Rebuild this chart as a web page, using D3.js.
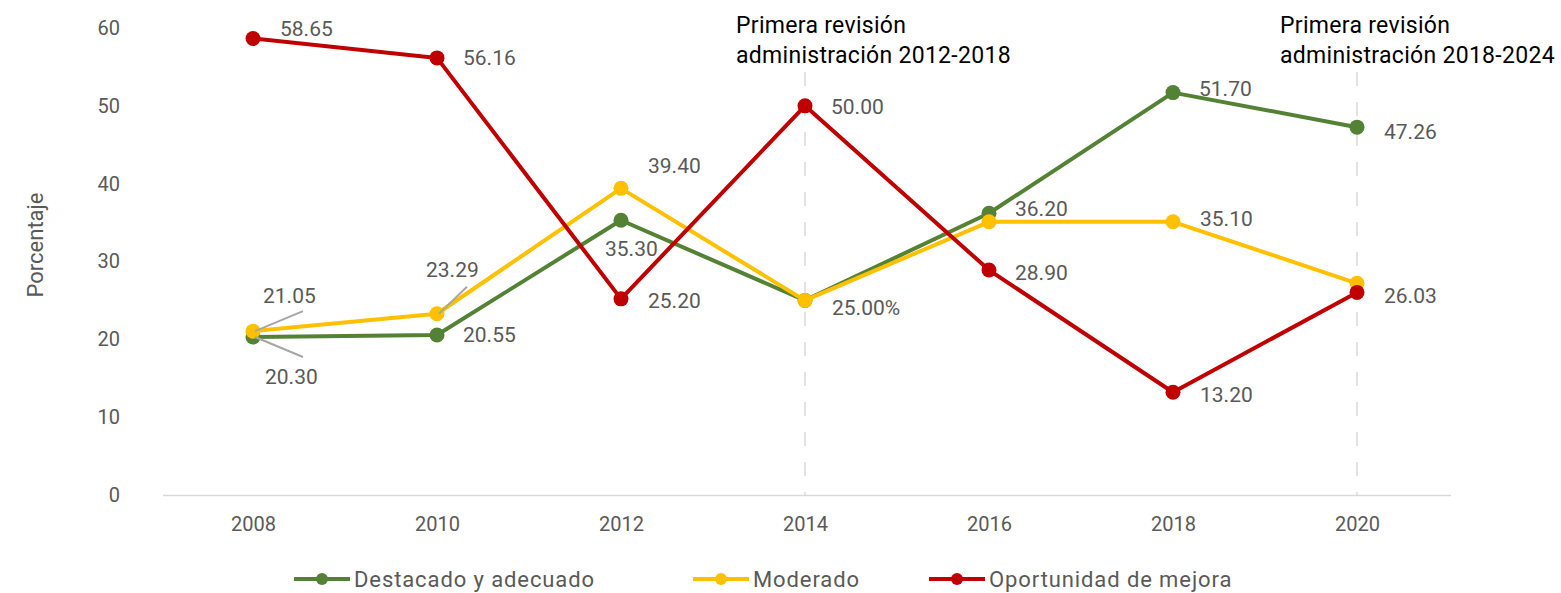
<!DOCTYPE html>
<html lang="es">
<head>
<meta charset="UTF-8">
<title>Porcentaje por nivel</title>
<script src="https://cdn.jsdelivr.net/npm/d3@7"></script>
<style>
  body { margin: 0; background: #fff; }
  text { font-family: Roboto, "Liberation Sans", sans-serif; }
</style>
</head>
<body>
<script>
// data
const years = ["2008", "2010", "2012", "2014", "2016", "2018", "2020"];
const destacado = [20.30, 20.55, 35.30, 25.00, 36.20, 51.70, 47.26];
const moderado = [21.05, 23.29, 39.40, 25.00, 35.10, 35.10, 27.20];
const oportunidad = [58.65, 56.16, 25.20, 50.00, 28.90, 13.20, 26.03];

const destacadoLabels = ["20.30", "20.55", "35.30", "25.00%", "36.20", "51.70", "47.26"];
const moderadoLabels = ["21.05", "23.29", "39.40", null, null, "35.10", null];
const oportunidadLabels = ["58.65", "56.16", "25.20", "50.00", "28.90", "13.20", "26.03"];

const yTicks = [0, 10, 20, 30, 40, 50, 60];
const revisionYears = ["2014", "2020"];
const revisionText = [
  ["Primera revisión", "administración 2012-2018"],
  ["Primera revisión", "administración 2018-2024"]
];

// label offsets (dx, dy from point), third flag = leader line
const labelPos = {
  destacado: [[12, 40, true], [26, 0], [-16, 28], [27, 7], [26, -5], [26, -4], [27, 4]],
  moderado: [[10, -36, true], [-11, -44, true], [27, -23], null, null, [27, -3], null],
  oportunidad: [[27, -10], [26, 0], [27, 2], [26, 1], [26, 3], [27, 2], [27, 3]]
};
const revisionDx = [-69, -77];

const series = [
  { key: "destacado", name: "Destacado y adecuado", color: "#548235", values: destacado, labels: destacadoLabels },
  { key: "moderado", name: "Moderado", color: "#FFC000", values: moderado, labels: moderadoLabels },
  { key: "oportunidad", name: "Oportunidad de mejora", color: "#C00000", values: oportunidad, labels: oportunidadLabels }
];

const width = 1561, height = 593;
const textGray = "#595959";

const svg = d3.select("body").append("svg")
  .attr("width", width)
  .attr("height", height);

const x = d3.scalePoint().domain(years).range([161, 1449]).padding(0.5);
const y = d3.scaleLinear().domain([0, 60]).range([495, 28]);

// dashed revision lines
svg.append("g")
  .selectAll("line")
  .data(revisionYears)
  .join("line")
  .attr("x1", d => x(d)).attr("x2", d => x(d))
  .attr("y1", 72).attr("y2", y(0))
  .attr("stroke", "#d9d9d9")
  .attr("stroke-width", 1.5)
  .attr("stroke-dasharray", "14,16");

// x axis
const xAxis = svg.append("g")
  .attr("transform", `translate(0,${y(0)})`)
  .call(d3.axisBottom(x).tickSize(0).tickPadding(22));
xAxis.select(".domain").attr("stroke", "#d9d9d9").attr("stroke-width", 1.5)
  .attr("d", `M163,0.5H1451`);
xAxis.selectAll("text").attr("fill", textGray).style("font-size", "20px");

// y axis
const yAxis = svg.append("g")
  .attr("transform", "translate(120,0)")
  .call(d3.axisLeft(y).tickValues(yTicks).tickSize(0).tickPadding(0));
yAxis.select(".domain").remove();
yAxis.selectAll("text").attr("fill", textGray).style("font-size", "20px");

svg.append("text")
  .attr("transform", "translate(43,245) rotate(-90)")
  .attr("text-anchor", "middle")
  .attr("fill", textGray)
  .style("font-size", "22px")
  .text("Porcentaje");

// revision annotations
revisionYears.forEach((yr, i) => {
  const t = svg.append("text")
    .attr("y", 33)
    .attr("fill", "#000")
    .style("font-size", "23px")
    .style("letter-spacing", "0.3px");
  revisionText[i].forEach((line, j) => {
    t.append("tspan").attr("x", x(yr) + revisionDx[i]).attr("dy", j === 0 ? 0 : 30).text(line);
  });
});

// lines and markers
const line = d3.line().x((d, i) => x(years[i])).y(d => y(d));

series.forEach(s => {
  const g = svg.append("g");
  g.append("path")
    .datum(s.values)
    .attr("d", line)
    .attr("fill", "none")
    .attr("stroke", s.color)
    .attr("stroke-width", 4)
    .attr("stroke-linejoin", "round");
  g.selectAll("circle")
    .data(s.values)
    .join("circle")
    .attr("cx", (d, i) => x(years[i]))
    .attr("cy", d => y(d))
    .attr("r", 7.5)
    .attr("fill", s.color);
});

// data labels
series.forEach(s => {
  s.labels.forEach((lab, i) => {
    const p = labelPos[s.key][i];
    if (!lab || !p) return;
    const px = x(years[i]), py = y(s.values[i]);
    if (p[2]) {
      // leader line from point toward label
      const lx = p[0] < 0 ? px + 30 : px + 50;
      const ly = p[0] < 0 ? py - 27 : (p[1] < 0 ? py - 20 : py + 20);
      svg.append("line")
        .attr("x1", px + 2).attr("y1", py)
        .attr("x2", lx).attr("y2", ly)
        .attr("stroke", "#a6a6a6")
        .attr("stroke-width", 2);
    }
    svg.append("text")
      .attr("x", px + p[0])
      .attr("y", py + p[1])
      .attr("dy", "0.35em")
      .attr("fill", textGray)
      .style("font-size", "21px")
      .text(lab);
  });
});

// legend
const legendX = [294, 693, 929];
const legend = svg.append("g").attr("transform", "translate(0,579)");
series.forEach((s, i) => {
  const g = legend.append("g").attr("transform", `translate(${legendX[i]},0)`);
  g.append("line").attr("x1", 0).attr("x2", 56).attr("y1", 0).attr("y2", 0)
    .attr("stroke", s.color).attr("stroke-width", 4);
  g.append("circle").attr("cx", 28).attr("cy", 0).attr("r", 6).attr("fill", s.color);
  g.append("text").attr("x", 60).attr("dy", "0.35em")
    .attr("fill", textGray).style("font-size", "22px").style("letter-spacing", "0.9px")
    .text(s.name);
});
</script>
</body>
</html>
